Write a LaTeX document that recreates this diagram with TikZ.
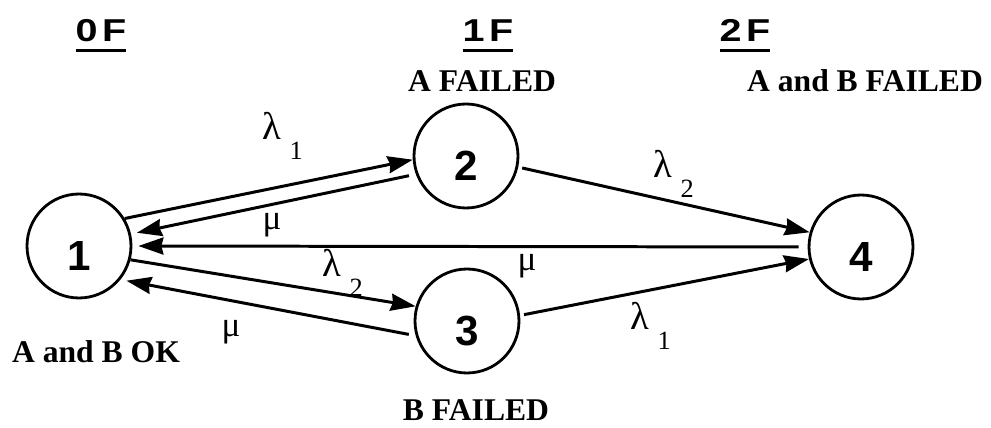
\documentclass[tikz,border=0pt]{standalone}
\usepackage{fontspec}
\setmainfont{Liberation Serif}
\setsansfont{Liberation Sans}
\usetikzlibrary{arrows.meta}
\newsavebox{\levelbox}
\newcommand{\rate}[1]{λ\kern0.17cm\raisebox{-0.39cm}{\fontsize{15}{15}\selectfont #1}}
\newcommand{\level}[1]{\sbox{\levelbox}{\scalebox{1.25}[1]{#1}}%
  \rlap{\usebox{\levelbox}}\rule[-5.5pt]{\wd\levelbox}{1.7pt}}

\begin{document}
\begin{tikzpicture}[x=0.02cm, y=-0.02cm,
  >={Stealth[length=0.5cm, width=0.34cm, inset=0.04cm]},
  state/.style={circle, draw, line width=1.6pt, minimum size=2.08cm, inner sep=0pt,
                font=\fontsize{24}{24}\selectfont\sffamily\bfseries,
                text height=1.0cm, text depth=0pt},
  link/.style={->, line width=1.7pt},
  ratelbl/.style={font=\fontsize{22}{22}\selectfont, inner sep=0pt, anchor=base west},
  repair/.style={font=\fontsize{20}{20}\selectfont, inner sep=0pt},
  caption/.style={font=\fontsize{18}{20}\selectfont\bfseries, inner sep=0pt, anchor=base},
  levelhead/.style={font=\fontsize{18}{20}\selectfont\sffamily\bfseries, inner sep=0pt, anchor=base}]

\useasboundingbox (0,0) rectangle (991,428);

% Niveaux de panne
\node[levelhead] (h0) at (101,42) {\level{0\kern2pt F}};
\node[levelhead] (h1) at (488,42) {\level{1\kern2pt F}};
\node[levelhead] (h2) at (745,42) {\level{2\kern2pt F}};
\node[caption] (c2) at (482,92) {A FAILED};
\node[caption] (c4) at (865,92) {A and B FAILED};
\node[caption] (c1) at (96,363) {A and B OK};
\node[caption] (c3) at (476,421) {B FAILED};

% Etats
\node[state] (n1) at (79,246) {1};
\node[state] (n2) at (466,156) {2};
\node[state] (n3) at (467,321) {3};
\node[state] (n4) at (861,247) {4};

% Pannes
\draw[link] (n1.31) -- (n2.184);
\draw[link] (n1.-15) -- (n3.164);
\draw[link, shorten <=0.08cm] (n2.-12) -- (n4.164);
\draw[link, shorten <=0.08cm] (n3.6) -- (n4.193);

% Reparations
\draw[link, shorten <=0.14cm, shorten >=0.12cm] (n2.200) -- (n1.13);
\draw[link, shorten <=0.18cm, shorten >=0.12cm] (n4.180) -- (n1.0);
\draw[link, shorten <=0.14cm, shorten >=0.12cm] (n3.196) -- (n1.-39);

% Taux
\node[ratelbl] (l12) at (262,140) {\rate{1}};
\node[ratelbl] (l13) at (322,277) {\rate{2}};
\node[ratelbl] (l24) at (653,178) {\rate{2}};
\node[ratelbl] (l34) at (630,330) {\rate{1}};
\node[repair] (m21) at (272,225) {μ};
\node[repair] (m41) at (527,266) {μ};
\node[repair] (m31) at (231,332) {μ};

\end{tikzpicture}
\end{document}
